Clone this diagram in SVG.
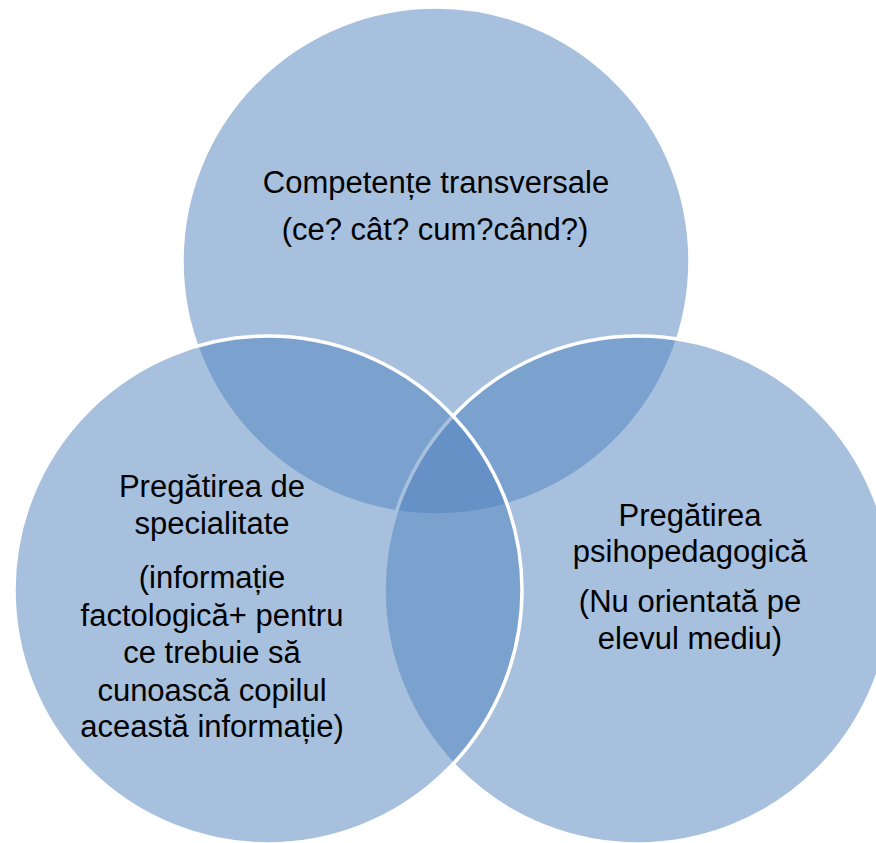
<svg xmlns="http://www.w3.org/2000/svg" width="876" height="843" viewBox="0 0 876 843">
<style>
.c{fill:#4F81BD;fill-opacity:0.5;stroke:#FFFFFF;stroke-width:3.5}
.t{font-family:"Liberation Sans",Arial,sans-serif;font-size:31px;fill:#000;text-anchor:middle}
</style>
<rect width="876" height="843" fill="#FFFFFF"/>
<g id="top">
<circle class="c" cx="436" cy="261" r="254"/>
<text class="t" x="436" y="193">Competențe transversale</text>
<text class="t" x="435" y="240">(ce? cât? cum?când?)</text>
</g>
<g id="right">
<circle class="c" cx="638" cy="590" r="254"/>
<text class="t" x="690" y="526">Pregătirea</text>
<text class="t" x="690" y="562">psihopedagogică</text>
<text class="t" x="690" y="612">(Nu orientată pe</text>
<text class="t" x="690" y="649">elevul mediu)</text>
</g>
<g id="left">
<circle class="c" cx="268" cy="590" r="254"/>
<text class="t" x="212" y="497">Pregătirea de</text>
<text class="t" x="212" y="534">specialitate</text>
<text class="t" x="212" y="588">(informație</text>
<text class="t" x="212" y="626">factologică+ pentru</text>
<text class="t" x="212" y="663">ce trebuie să</text>
<text class="t" x="212" y="701">cunoască copilul</text>
<text class="t" x="212" y="737">această informație)</text>
</g>
<g id="connectors"></g>
</svg>
